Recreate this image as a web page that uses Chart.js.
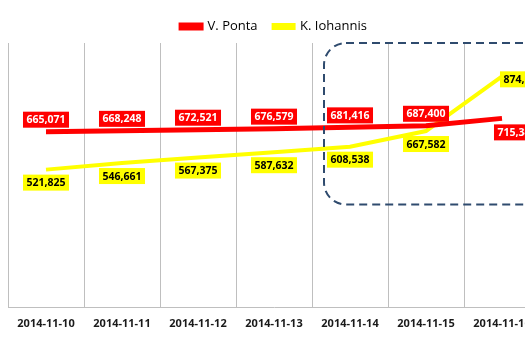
<!DOCTYPE html>
<html>
<head>
<meta charset="utf-8">
<script src="https://cdn.jsdelivr.net/npm/chart.js@4.4.0/dist/chart.umd.min.js"></script>
<style>
  html, body { margin: 0; padding: 0; background: #fff; overflow: hidden; }
  #wrap { width: 545px; height: 350px; }
</style>
</head>
<body>
<div id="wrap"><canvas id="votesChart" width="545" height="350"></canvas></div>
<script>
// data
const categories = ["2014-11-10", "2014-11-11", "2014-11-12", "2014-11-13", "2014-11-14", "2014-11-15", "2014-11-16"];
const pontaVotes = [665071, 668248, 672521, 676579, 681416, 687400, 715345];
const iohannisVotes = [521825, 546661, 567375, 587632, 608538, 667582, 874120];

const fmt = (v) => v.toLocaleString("en-US");

// labels: red above the line, yellow below (last ones shifted right)
const labelOffsets = [
  [[0, -12], [0, -12], [0, -12], [0, -12], [0, -12], [0, -12], [15, 14]],
  [[0, 13], [0, 13], [0, 13], [0, 13], [0, 13], [0, 13], [21, 3]],
];
const labelColors = [
  { bg: "#FF0000", fg: "#FFFFFF" },
  { bg: "#FFFF00", fg: "#000000" },
];

const boxLabels = {
  id: "boxLabels",
  afterDatasetsDraw(chart) {
    const c = chart.ctx;
    c.save();
    c.font = "bold 10.5px 'Open Sans', 'Liberation Sans', sans-serif";
    c.textAlign = "center";
    c.textBaseline = "middle";
    chart.data.datasets.forEach((ds, di) => {
      chart.getDatasetMeta(di).data.forEach((pt, i) => {
        const txt = fmt(ds.data[i]);
        const w = c.measureText(txt).width + 7;
        const h = 16;
        const x = pt.x + labelOffsets[di][i][0];
        const y = pt.y + labelOffsets[di][i][1];
        c.fillStyle = labelColors[di].bg;
        c.fillRect(x - w / 2, y - h / 2, w, h);
        c.fillStyle = labelColors[di].fg;
        c.fillText(txt, x, y + 0.5);
      });
    });
    c.restore();
  },
};

// dashed rounded box around the last days
const dashedBox = {
  id: "dashedBox",
  afterDatasetsDraw(chart) {
    const c = chart.ctx;
    const xs = chart.scales.x;
    const ys = chart.scales.y;
    const left = xs.getPixelForValue(4) - 26;
    const right = chart.width + 20;
    const top = chart.chartArea.top;
    const bottom = ys.getPixelForValue(390000);
    c.save();
    c.strokeStyle = "#2F4B6E";
    c.lineWidth = 2;
    c.setLineDash([8, 5]);
    c.beginPath();
    c.roundRect(left, top, right - left, bottom - top, 22);
    c.stroke();
    c.restore();
  },
};

const ctx = document.getElementById("votesChart").getContext("2d");
const votesChart = new Chart(ctx, {
  type: "line",
  data: {
    labels: categories,
    datasets: [
      {
        label: "V. Ponta",
        data: pontaVotes,
        borderColor: "#FF0000",
        backgroundColor: "#FF0000",
        borderWidth: 5,
        pointRadius: 0,
        tension: 0,
      },
      {
        label: "K. Iohannis",
        data: iohannisVotes,
        borderColor: "#FFFF00",
        backgroundColor: "#FFFF00",
        borderWidth: 4,
        pointRadius: 0,
        tension: 0,
      },
    ],
  },
  options: {
    responsive: false,
    animation: false,
    layout: { padding: { left: 8, right: 5, top: 4, bottom: 11 } },
    plugins: {
      legend: {
        position: "top",
        labels: {
          boxWidth: 20,
          boxHeight: 3,
          padding: 16,
          color: "#000",
          font: { family: "'Open Sans', 'Liberation Sans', sans-serif", size: 13 },
        },
      },
      tooltip: { enabled: false },
    },
    scales: {
      x: {
        offset: true,
        grid: { offset: true, color: "#BFBFBF", drawTicks: false },
        border: { color: "#BFBFBF" },
        ticks: {
          padding: 9,
          maxRotation: 0,
          color: "#1a1a1a",
          font: { family: "'Open Sans', 'Liberation Sans', sans-serif", size: 11, weight: "bold" },
        },
      },
      y: {
        display: false,
        min: 0,
        max: 1000000,
      },
    },
  },
  plugins: [boxLabels, dashedBox],
});
</script>
</body>
</html>
